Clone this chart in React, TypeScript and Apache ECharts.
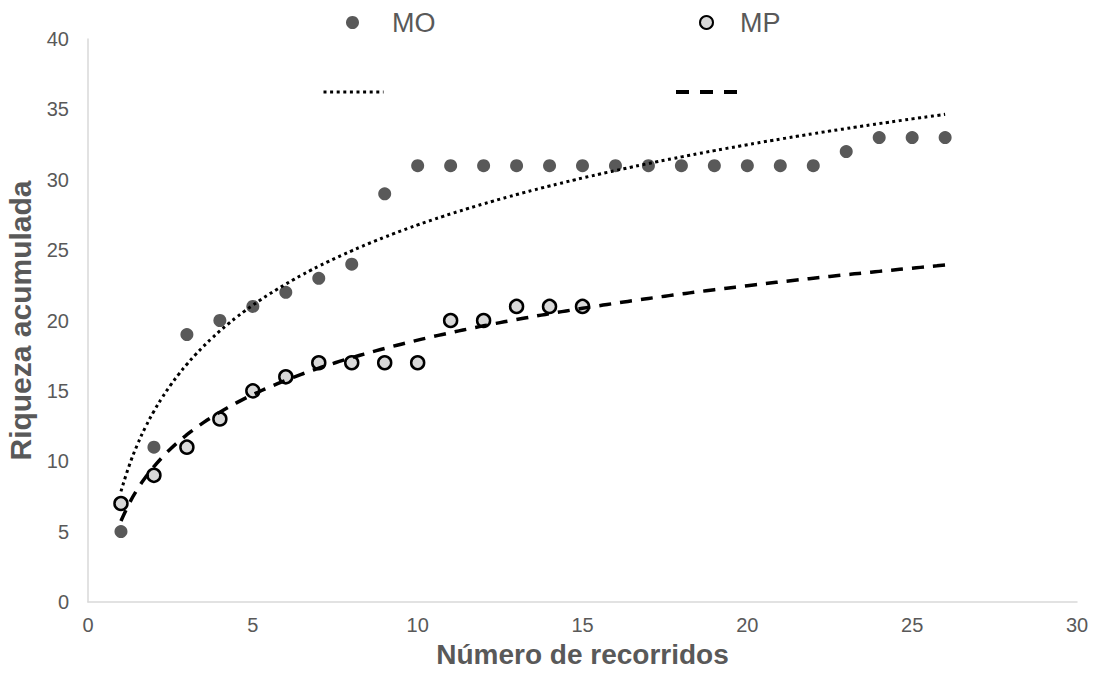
import React, { useEffect, useRef } from "react";
import * as echarts from "echarts";

const moX = [1, 2, 3, 4, 5, 6, 7, 8, 9, 10, 11, 12, 13, 14, 15, 16, 17, 18, 19, 20, 21, 22, 23, 24, 25, 26];
const moY = [5, 11, 19, 20, 21, 22, 23, 24, 29, 31, 31, 31, 31, 31, 31, 31, 31, 31, 31, 31, 31, 31, 32, 33, 33, 33];
const mpX = [1, 2, 3, 4, 5, 6, 7, 8, 9, 10, 11, 12, 13, 14, 15];
const mpY = [7, 9, 11, 13, 15, 16, 17, 17, 17, 17, 20, 20, 21, 21, 21];
const xTicks = [0, 5, 10, 15, 20, 25, 30];
const yTicks = [0, 5, 10, 15, 20, 25, 30, 35, 40];
const trendRange = [1, 26];

// logarithmic least-squares fit (as in a spreadsheet trendline)
function logFit(xs: number[], ys: number[]) {
  const n = xs.length;
  const lx = xs.map((v) => Math.log(v));
  const mx = lx.reduce((a, b) => a + b, 0) / n;
  const my = ys.reduce((a, b) => a + b, 0) / n;
  let sxy = 0;
  let sxx = 0;
  for (let i = 0; i < n; i++) {
    sxy += (lx[i] - mx) * (ys[i] - my);
    sxx += (lx[i] - mx) * (lx[i] - mx);
  }
  const a = sxy / sxx;
  const b = my - a * mx;
  const pts: number[][] = [];
  for (let x = trendRange[0]; x <= trendRange[1] + 1e-9; x += 0.25) {
    pts.push([x, a * Math.log(x) + b]);
  }
  return pts;
}

const FONT = "'Liberation Sans', Arial, sans-serif";
const GREY = "#595959";

export default function App() {
  const ref = useRef<HTMLDivElement>(null);
  useEffect(() => {
    if (!ref.current) return;
    const chart = echarts.init(ref.current, undefined, { renderer: "svg" });
    const moTrend = logFit(moX, moY);
    const mpTrend = logFit(mpX, mpY);
    const hiddenSymbol = { color: "rgba(0,0,0,0)", borderWidth: 0, borderColor: "rgba(0,0,0,0)", opacity: 0 };
    chart.setOption({
      animation: false,
      backgroundColor: "#ffffff",
      textStyle: { fontFamily: FONT },
      grid: { left: 88, right: 17, top: 39, bottom: 79, containLabel: false, outerBoundsMode: "none" },
      legend: [
        {
          data: ["MO"],
          left: 341,
          top: 4,
          itemWidth: 13,
          itemHeight: 13,
          icon: "circle",
          textStyle: { fontSize: 27, color: GREY, fontFamily: FONT, padding: [0, 0, 0, 28] },
        },
        {
          data: ["MP"],
          left: 694,
          top: 4,
          itemWidth: 13,
          itemHeight: 13,
          icon: "circle",
          textStyle: { fontSize: 27, color: GREY, fontFamily: FONT, padding: [0, 0, 0, 22] },
        },
        {
          data: ["Tendencia MO"],
          left: 317,
          top: 80,
          itemWidth: 60,
          itemHeight: 14,
          itemStyle: hiddenSymbol,
          lineStyle: { color: "#000000", width: 3, type: [3, 3.6] },
          formatter: () => "",
        },
        {
          data: ["Tendencia MP"],
          left: 669,
          top: 80,
          itemWidth: 61,
          itemHeight: 14,
          itemStyle: hiddenSymbol,
          lineStyle: { color: "#000000", width: 4, type: [13, 11] },
          formatter: () => "",
        },
      ],
      xAxis: {
        type: "value",
        min: xTicks[0],
        max: xTicks[xTicks.length - 1],
        interval: 5,
        name: "Número de recorridos",
        nameLocation: "middle",
        nameGap: 38,
        nameTextStyle: { fontSize: 28, fontWeight: "bold", color: GREY, fontFamily: FONT },
        axisLine: { show: true, lineStyle: { color: "#d9d9d9", width: 1.5 } },
        axisTick: { show: false },
        splitLine: { show: false },
        axisLabel: { fontSize: 20, color: GREY, margin: 13, fontFamily: FONT },
      },
      yAxis: {
        type: "value",
        min: yTicks[0],
        max: yTicks[yTicks.length - 1],
        interval: 5,
        name: "Riqueza acumulada",
        nameLocation: "middle",
        nameGap: 45,
        nameTextStyle: { fontSize: 30, fontWeight: "bold", color: GREY, fontFamily: FONT },
        axisLine: { show: true, lineStyle: { color: "#d9d9d9", width: 1.5 } },
        axisTick: { show: false },
        splitLine: { show: false },
        axisLabel: { fontSize: 20, color: GREY, margin: 19, fontFamily: FONT },
      },
      series: [
        {
          name: "Tendencia MO",
          type: "line",
          data: moTrend,
          showSymbol: false,
          symbol: "none",
          smooth: true,
          lineStyle: { color: "#000000", width: 3, type: [3, 3.5] },
          itemStyle: { color: "#000000" },
          z: 3,
        },
        {
          name: "Tendencia MP",
          type: "line",
          data: mpTrend,
          showSymbol: false,
          symbol: "none",
          smooth: true,
          lineStyle: { color: "#000000", width: 3.5, type: [12, 9] },
          itemStyle: { color: "#000000" },
          z: 3,
        },
        {
          name: "MO",
          type: "scatter",
          data: moX.map((x, i) => [x, moY[i]]),
          symbol: "circle",
          symbolSize: 13,
          itemStyle: { color: GREY, opacity: 1 },
          z: 2,
        },
        {
          name: "MP",
          type: "scatter",
          data: mpX.map((x, i) => [x, mpY[i]]),
          symbol: "circle",
          symbolSize: 13,
          itemStyle: { color: "#d9d9d9", borderColor: "#000000", borderWidth: 2.5, opacity: 1 },
          z: 2,
        },
      ],
    });
    return () => chart.dispose();
  }, []);
  return (
    <div
      ref={ref}
      style={{ position: "fixed", left: 0, top: 0, width: 1094, height: 681, background: "#fff" }}
    />
  );
}
